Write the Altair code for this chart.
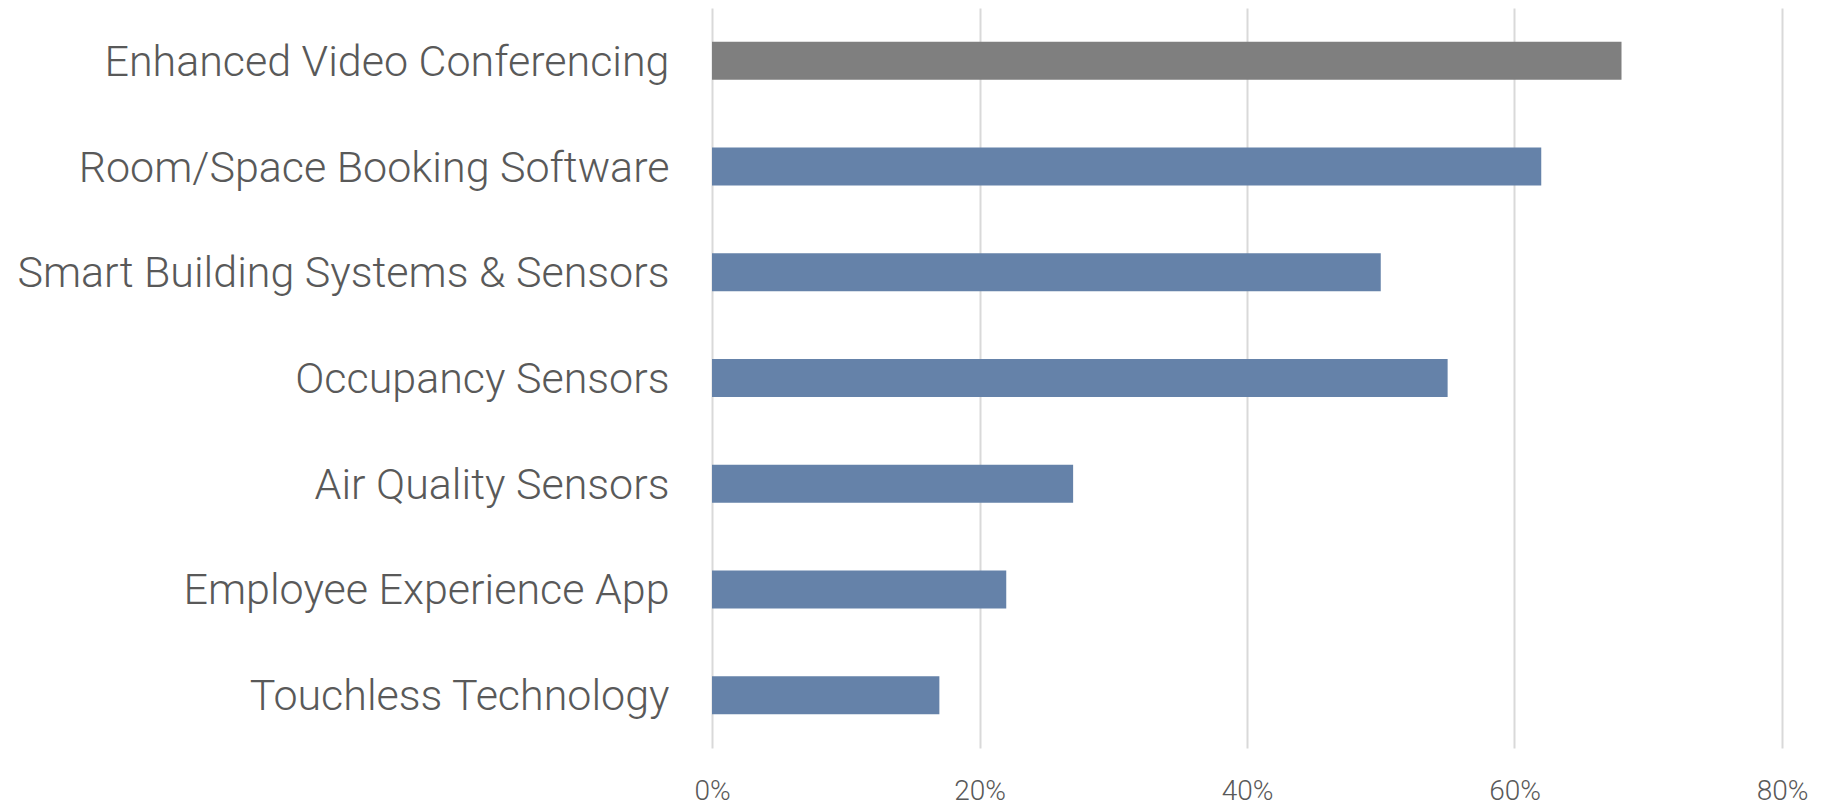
import altair as alt
import pandas as pd

categories = [
    "Enhanced Video Conferencing",
    "Room/Space Booking Software",
    "Smart Building Systems & Sensors",
    "Occupancy Sensors",
    "Air Quality Sensors",
    "Employee Experience App",
    "Touchless Technology",
]
values = [0.68, 0.62, 0.50, 0.55, 0.27, 0.22, 0.17]
groups = ["highlight", "base", "base", "base", "base", "base", "base"]

df = pd.DataFrame({"category": categories, "value": values, "group": groups})

chart = (
    alt.Chart(df)
    .mark_bar(size=38)
    .encode(
        x=alt.X(
            "value:Q",
            scale=alt.Scale(domain=[0, 0.8], nice=False),
            axis=alt.Axis(
                format=".0%",
                values=[0, 0.2, 0.4, 0.6, 0.8],
                title=None,
                domain=False,
                ticks=False,
                grid=True,
                gridColor="#D9D9D9",
                gridWidth=2,
                labelFont="Roboto",
                labelFontWeight=300,
                labelFontSize=28,
                labelColor="#595959",
                labelPadding=29,
                labelFlush=False,
            ),
        ),
        y=alt.Y(
            "category:N",
            sort=categories,
            scale=alt.Scale(paddingInner=0, paddingOuter=0),
            axis=alt.Axis(
                title=None,
                domain=False,
                ticks=False,
                grid=False,
                labelFont="Roboto",
                labelFontWeight=300,
                labelFontSize=43,
                labelColor="#595959",
                labelPadding=43,
                labelOffset=2,
                labelLimit=800,
            ),
        ),
        color=alt.Color(
            "group:N",
            scale=alt.Scale(domain=["highlight", "base"], range=["#7F7F7F", "#6582A9"]),
            legend=None,
        ),
    )
    .properties(
        width=1070,
        height=740,
        autosize=alt.AutoSizeParams(type="none"),
        padding={"left": 704, "top": 0, "right": 34, "bottom": 66},
    )
    .configure_view(stroke=None)
)

chart.save("out.html", embed_options={"renderer": "svg", "actions": False})
